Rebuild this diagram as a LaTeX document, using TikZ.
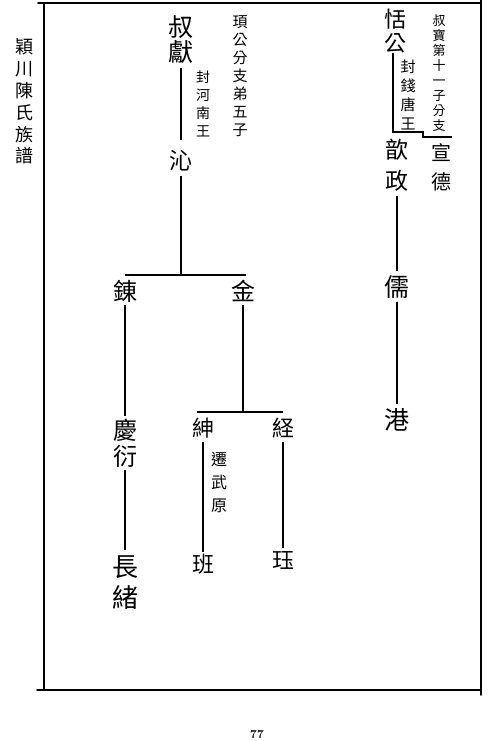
\documentclass[tikz,border=0pt]{standalone}
\usepackage{fontspec}
\newfontfamily\cjk{Noto Sans CJK TC}
\begin{document}
\begin{tikzpicture}[x=1pt,y=-1pt,
  frame/.style={line width=1.8pt,line cap=round},
  tree/.style={line width=1.4pt},
  nm/.style={inner sep=0pt,align=center,font=\cjk\fontsize{#1}{#1}\selectfont},
  vt/.style 2 args={inner sep=0pt,align=center,font=\cjk\fontsize{#1}{#2}\selectfont}]
\useasboundingbox (0,0) rectangle (500,741);
% frame
\draw[frame] (38,3) -- (481,3);
\draw[frame] (44,3) -- (44,690);
\draw[frame] (37,690) -- (481,690);
\draw[frame] (481,0) -- (481,695);
% title and page number
\node[vt={18}{21.8}] (title) at (24,101.5) {穎\\川\\陳\\氏\\族\\譜};
\node[inner sep=0pt,font=\bfseries\fontsize{12}{12}\selectfont] (page) at (257,735) {77};
% right branch
\node[vt={22}{24}] (tian) at (395,31) {恬\\公};
\node[vt={13}{15}] (noteR) at (439,73.5) {叔\\寶\\第\\十\\一\\子\\分\\支};
\node[vt={20}{29}] (xuande) at (441,167.5) {宣\\德};
\node[vt={15}{19}] (qiantang) at (408,95) {封\\錢\\唐\\王};
\node[vt={23}{31}] (xinzheng) at (397,165.5) {歆\\政};
\node[nm=25] (ru) at (397,287) {儒};
\node[nm=25] (gang) at (397,420) {港};
\coordinate (br1) at (393,53);
\coordinate (br2) at (423,132);
\coordinate (br3) at (452,137);
\draw[tree] (br1) |- (br2) |- (br3);
\draw[tree] ([yshift=-4pt]xinzheng.south) -- ([yshift=4pt]ru.north);
\draw[tree] ([yshift=-3pt]ru.south) -- ([yshift=4pt]gang.north);
% left branch
\node[vt={15}{18}] (noteL) at (240,76) {頊\\公\\分\\支\\弟\\五\\子};
\node[vt={25}{25}] (shuxian) at (181,40) {叔\\獻};
\node[vt={14}{18}] (henan) at (203,104) {封\\河\\南\\王};
\node[nm=23] (qin) at (181,161) {沁};
\draw[tree] ([yshift=-4pt]shuxian.south) -- ([yshift=10pt]qin.north);
\coordinate (j1) at (181,275);
\coordinate (j1L) at (125,275);
\coordinate (j1R) at (246,275);
\draw[tree] ([yshift=-4pt]qin.south) -- (j1);
\draw[tree] (j1L) -- (j1R);
\node[nm=24] (lian) at (125,291) {錬};
\node[nm=24] (jin) at (243,291) {金};
\node[vt={24}{26}] (qingyan) at (125,443) {慶\\衍};
\draw[tree] ([yshift=-3pt]lian.south) -- ([yshift=3pt]qingyan.north);
\node[vt={26}{31}] (changxu) at (125,582.5) {長\\緒};
\draw[tree] ([yshift=-3pt]qingyan.south) -- ([yshift=5pt]changxu.north);
\coordinate (j2) at (243,412);
\coordinate (j2L) at (197,412);
\coordinate (j2R) at (283,412);
\draw[tree] ([yshift=-3pt]jin.south) -- (j2);
\draw[tree] (j2L) -- (j2R);
\node[nm=22] (shen) at (203,428) {紳};
\node[nm=22] (jing) at (283,428) {経};
\node[vt={16}{23}] (qian) at (219,482) {遷\\武\\原};
\node[nm=22] (ban) at (203,564) {班};
\node[nm=22] (jue) at (283,560) {珏};
\draw[tree] ([yshift=-4pt]shen.south) -- ([yshift=2pt]ban.north);
\draw[tree] ([yshift=-4pt]jing.south) -- ([yshift=3pt]jue.north);
\end{tikzpicture}
\end{document}
